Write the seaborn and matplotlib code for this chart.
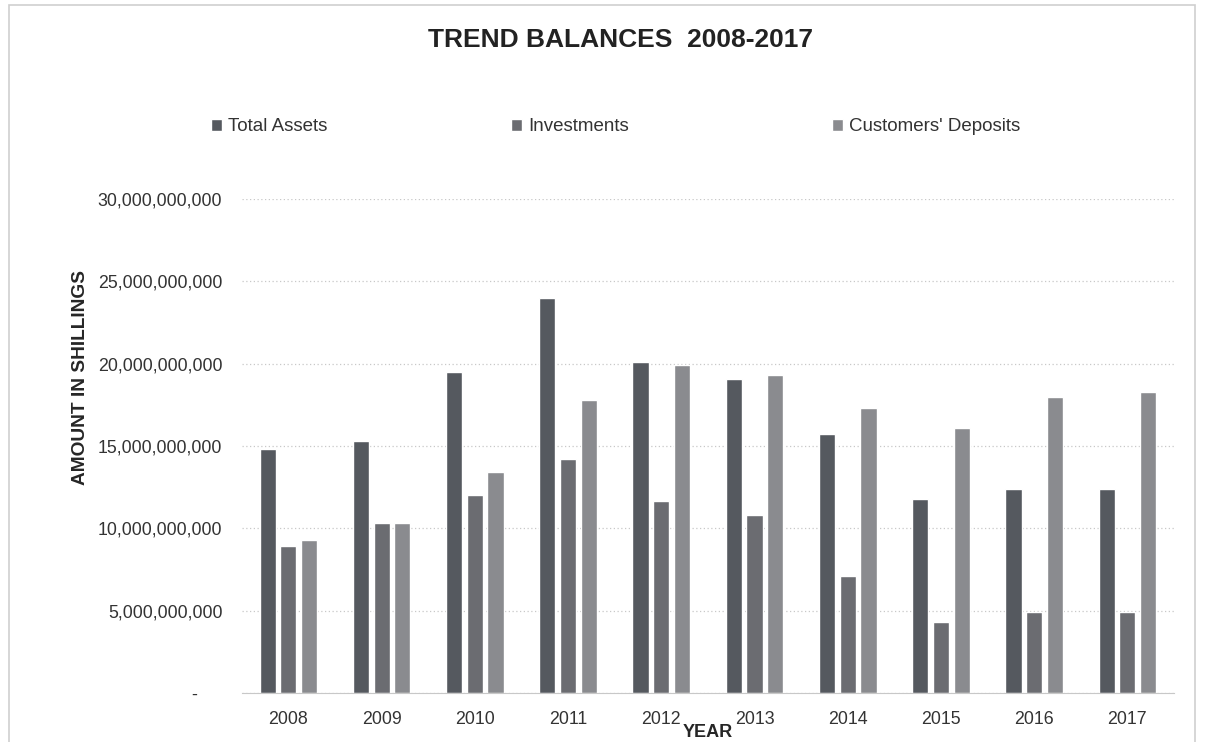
import matplotlib
matplotlib.use("Agg")
import matplotlib.pyplot as plt
import matplotlib.ticker as mticker
from matplotlib.patches import Rectangle
import seaborn as sns
import pandas as pd

# values (shillings)
years = ["2008", "2009", "2010", "2011", "2012", "2013", "2014", "2015", "2016", "2017"]
total_assets = [14.8e9, 15.3e9, 19.5e9, 24.0e9, 20.1e9, 19.05e9, 15.75e9, 11.8e9, 12.4e9, 12.4e9]
investments = [8.9e9, 10.35e9, 12.0e9, 14.2e9, 11.65e9, 10.8e9, 7.1e9, 4.3e9, 4.9e9, 4.9e9]
deposits = [9.3e9, 10.35e9, 13.4e9, 17.8e9, 19.95e9, 19.3e9, 17.3e9, 16.1e9, 18.0e9, 18.3e9]
series_names = ["Total Assets", "Investments", "Customers' Deposits"]
colors = ["#55595f", "#6b6c71", "#8a8b8f"]

df = pd.DataFrame({
    "Year": years * 3,
    "Amount": total_assets + investments + deposits,
    "Series": [series_names[0]] * 10 + [series_names[1]] * 10 + [series_names[2]] * 10,
})

sns.set_style("white")
plt.rcParams["font.family"] = ["Liberation Sans", "DejaVu Sans"]

fig = plt.figure(figsize=(12.21, 7.42), dpi=100)
ax = fig.add_axes([0.198, 0.066, 0.7635, 0.6658])

sns.barplot(data=df, x="Year", y="Amount", hue="Series", palette=colors,
            width=0.667, gap=0.22, ax=ax, saturation=1, legend=True)

ax.set_ylim(0, 30e9)
ax.yaxis.set_major_locator(mticker.MultipleLocator(5e9))
ax.yaxis.set_major_formatter(mticker.FuncFormatter(
    lambda v, p: "-     " if v == 0 else f"{v:,.0f}"))
ax.grid(axis="y", color="#c8c8c8", linestyle=(0, (1, 2)), linewidth=0.9)
ax.set_axisbelow(True)
for s in ["left", "right", "top"]:
    ax.spines[s].set_visible(False)
ax.spines["bottom"].set_color("#c8c8c8")
ax.tick_params(axis="y", length=0, pad=14, labelsize=12.8, labelcolor="#333333")
ax.tick_params(axis="x", length=0, pad=13, labelsize=12.8, labelcolor="#333333")

ax.set_xlabel("YEAR", fontsize=13, fontweight="bold", labelpad=-3)
ax.set_ylabel("AMOUNT IN SHILLINGS", fontsize=13.8, fontweight="bold")
ax.yaxis.set_label_coords(-0.164, 0.638)

# legend entries spread across the top, one per series
handles, labels = ax.get_legend_handles_labels()
ax.get_legend().remove()
legend_x = [211, 511, 832]
for h, lab, px in zip(handles, labels, legend_x):
    fig.legend([h], [lab], loc="center left", bbox_to_anchor=(px / 1221, 0.829),
               frameon=False, fontsize=13.5, handlelength=0.6, handleheight=0.6,
               handletextpad=0.3, borderaxespad=0, borderpad=0, labelcolor="#333333")

fig.text(0.508, 0.946, "TREND BALANCES  2008-2017", ha="center", va="center",
         fontsize=19, fontweight="bold", color="#222222")

# faint border of the scanned chart
fig.add_artist(Rectangle((0.007, -0.01), 0.972, 1.003, transform=fig.transFigure,
                         fill=False, edgecolor="#cfcfcf", linewidth=1.2))

fig.savefig("out.png", dpi=100)
